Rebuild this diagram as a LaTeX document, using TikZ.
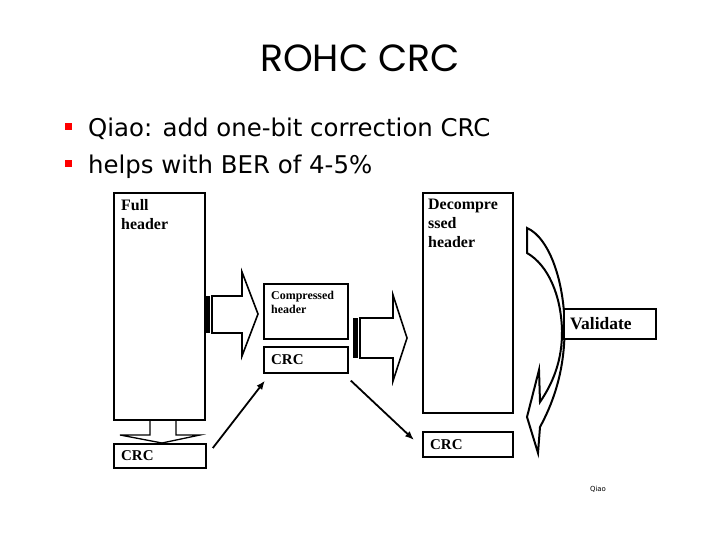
\documentclass[tikz,border=0pt]{standalone}
\usepackage{fontspec}
\setmainfont{Liberation Serif}
\newfontfamily\slidefont{DejaVu Sans}
\newfontfamily\titlefont{Poppins}
\usetikzlibrary{arrows.meta,calc,positioning}

\begin{document}
\begin{tikzpicture}[x=1bp,y=-1bp,>=Latex,
  box/.style={draw,line width=1.8bp,anchor=north west,inner sep=0pt},
  lbl/.style={anchor=north west,inner sep=0pt,align=left,font=\bfseries\fontsize{16}{19}\selectfont},
  tag/.style={anchor=west,inner sep=0pt,font=\bfseries\fontsize{15}{18}\selectfont},
  blk/.style={draw,line width=1.6bp,line join=miter},
  arr/.style={->,line width=1.8bp,>={Latex[length=9bp,width=7bp]}},
  dot/.style={fill=red,minimum size=7bp,inner sep=0pt},
  bul/.style={anchor=base west,inner sep=0pt,font=\slidefont\fontsize{24.5}{28}\selectfont}]
\useasboundingbox (0,0) rectangle (720,540);
% title and bullets
\node[font=\titlefont\fontsize{38}{40}\selectfont] (title) at (360,58) {ROHC CRC};
\node[dot] (dot1) at (68.5,126.5) {};
\node[dot] (dot2) at (68.5,163.5) {};
\node[bul] (line1) at (88,137) {Qiao: add one-bit correction CRC};
\node[bul] (line2) at (88,174) {helps with BER of 4-5\%};
% header boxes
\node[box,minimum width=91bp,minimum height=227bp] (full) at (113,192) {};
\node[box,minimum width=92bp,minimum height=24bp] (crcA) at (113,443) {};
\node[box,minimum width=84bp,minimum height=55bp] (comp) at (263,283) {};
\node[box,minimum width=84bp,minimum height=26bp,below=6bp of comp.south west,anchor=north west] (crcB) {};
\node[box,minimum width=90bp,minimum height=220bp] (decomp) at (422,192) {};
\node[box,minimum width=90bp,minimum height=25bp] (crcC) at (422,431) {};
% curved validate arrow
\draw[blk,line width=2bp] (527,228) .. controls (550,238) and (566,285) .. (564.5,335)
  .. controls (563.5,375) and (552,405) .. (540,427) -- (538,453) -- (527,417) -- (539,370)
  -- (540,402) .. controls (553,383) and (562.5,360) .. (562,330)
  .. controls (561,295) and (548,265) .. (527,253) -- cycle;
\node[box,minimum width=92bp,minimum height=30bp,fill=white] (valid) at (563,308) {};
% texts
\node[lbl] (fulltxt) at (121,199) {Full\\header};
\node[lbl,font=\bfseries\fontsize{12}{14}\selectfont] (comptxt) at (271,291) {Compressed\\header};
\node[lbl] (decomptxt) at (428,199) {Decompre\\ssed\\header};
\node[tag,right=8bp of crcA.west] (crcAtxt) {CRC};
\node[tag,right=8bp of crcB.west] (crcBtxt) {CRC};
\node[tag,right=8bp of crcC.west] (crcCtxt) {CRC};
\node[tag,right=7bp of valid.west,font=\bfseries\fontsize{17.5}{20}\selectfont] (validtxt) {Validate};
\node[font=\slidefont\fontsize{7}{8}\selectfont] (foot) at (598,489) {Qiao};
% block arrows
\fill (205,296) rectangle (209.5,333);
\draw[blk] (212,296) -- (242,296) -- (242,272) -- (258,314) -- (242,356) -- (242,333) -- (212,333) -- cycle;
\fill (353,318) rectangle (357.5,358);
\draw[blk] (360,318) -- (393,318) -- (393,295) -- (407,338) -- (393,381) -- (393,358) -- (360,358) -- cycle;
\draw[blk,line width=1.3bp] (150,419) -- (150,435) -- (120,435) -- (162,443) -- (200,435) -- (176,435) -- (176,419);
% crc flow
\draw[arr] ($(crcA.north east)+(6,5)$) -- ($(crcB.south west)+(2,7)$);
\draw[arr] ($(crcB.south east)+(2,7)$) -- ($(crcC.north west)+(-8,9)$);
\end{tikzpicture}
\end{document}
